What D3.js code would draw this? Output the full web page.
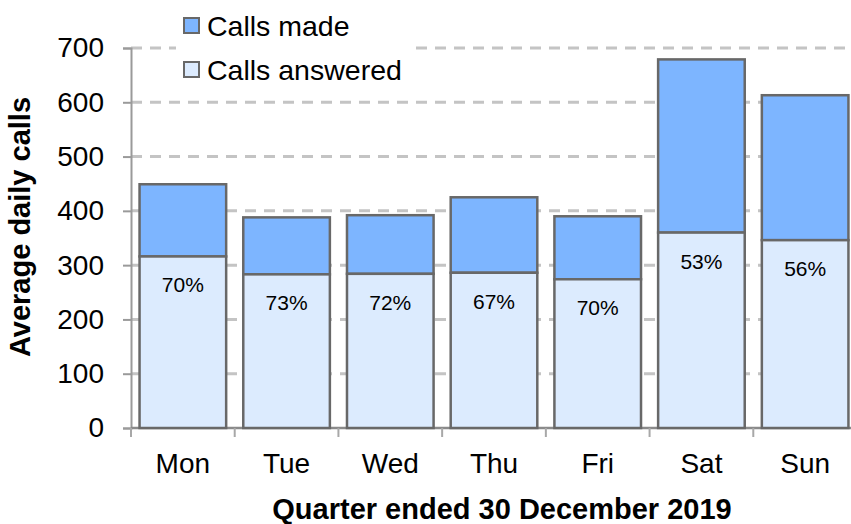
<!DOCTYPE html>
<html>
<head>
<meta charset="utf-8">
<script src="https://cdn.jsdelivr.net/npm/d3@7"></script>
<style>
  html, body { margin: 0; padding: 0; background: #fff; }
  svg { display: block; font-family: "Liberation Sans", Arial, sans-serif; }
</style>
</head>
<body>
<svg id="chart" width="851" height="524"></svg>
<script>
const days = ["Mon", "Tue", "Wed", "Thu", "Fri", "Sat", "Sun"];
const callsMade = [449, 388, 392, 425, 390, 679, 613];
const callsAnswered = [316, 283, 284, 286, 274, 360, 346];
const pctLabels = ["70%", "73%", "72%", "67%", "70%", "53%", "56%"];
const yTicks = [0, 100, 200, 300, 400, 500, 600, 700];
const seriesNames = ["Calls made", "Calls answered"];
const xTitle = "Quarter ended 30 December 2019";
const yTitle = "Average daily calls";

const colMade = "#7db5ff";
const colAnswered = "#dcebfe";
const colStroke = "#686868";

const svg = d3.select("#chart");
const pL = 131, pR = 857, pT = 48, pB = 428;

const x = d3.scaleBand().domain(days).range([pL, pR])
  .paddingInner(0.165).paddingOuter(0.0825);
const y = d3.scaleLinear().domain([0, 700]).range([pB, pT]);

// gridlines
svg.append("g").selectAll("line").data(yTicks.filter(d => d > 0)).join("line")
  .attr("x1", pL).attr("x2", 851)
  .attr("y1", d => y(d)).attr("y2", d => y(d))
  .attr("stroke", "#c4c4c4").attr("stroke-width", 3)
  .attr("stroke-dasharray", "11,8");

// y axis
const yAxis = svg.append("g").attr("transform", `translate(${pL},0)`)
  .call(d3.axisLeft(y).tickValues(yTicks).tickSize(8).tickPadding(19));
yAxis.select(".domain").attr("stroke", "#9a9a9a").attr("stroke-width", 2);
yAxis.selectAll(".tick line").attr("stroke", "#9a9a9a").attr("stroke-width", 2);
yAxis.selectAll(".tick text").attr("font-size", 28).attr("fill", "#000")
  .attr("font-family", "Liberation Sans, Arial, sans-serif");

// x axis
const step = x.step();
const xTickPos = d3.range(days.length + 1).map(i => pL + i * step);
const xAxisG = svg.append("g");
xAxisG.append("line").attr("x1", pL).attr("x2", pR)
  .attr("y1", pB).attr("y2", pB)
  .attr("stroke", "#8a8a8a").attr("stroke-width", 2.5);
xAxisG.selectAll("line.t").data(xTickPos).join("line").attr("class", "t")
  .attr("x1", d => d).attr("x2", d => d)
  .attr("y1", pB).attr("y2", pB + 9)
  .attr("stroke", "#a8a8a8").attr("stroke-width", 2);
xAxisG.selectAll("text").data(days).join("text")
  .attr("x", d => x(d) + x.bandwidth() / 2)
  .attr("y", pB + 45)
  .attr("text-anchor", "middle").attr("font-size", 28).attr("fill", "#000")
  .text(d => d);

// bars
const bars = svg.append("g");
bars.selectAll("rect.made").data(days).join("rect").attr("class", "made")
  .attr("x", d => x(d)).attr("width", x.bandwidth())
  .attr("y", (d, i) => y(callsMade[i]))
  .attr("height", (d, i) => y(callsAnswered[i]) - y(callsMade[i]))
  .attr("fill", colMade).attr("stroke", colStroke).attr("stroke-width", 2.5);
bars.selectAll("rect.ans").data(days).join("rect").attr("class", "ans")
  .attr("x", d => x(d)).attr("width", x.bandwidth())
  .attr("y", (d, i) => y(callsAnswered[i]))
  .attr("height", (d, i) => y(0) - y(callsAnswered[i]))
  .attr("fill", colAnswered).attr("stroke", colStroke).attr("stroke-width", 2.5);

// percentage labels
bars.selectAll("text").data(days).join("text")
  .attr("x", d => x(d) + x.bandwidth() / 2)
  .attr("y", (d, i) => y(callsAnswered[i]) + 36)
  .attr("text-anchor", "middle").attr("font-size", 21).attr("fill", "#000")
  .text((d, i) => pctLabels[i]);

// legend
const lg = svg.append("g");
lg.append("rect").attr("x", 176).attr("y", 4).attr("width", 238).attr("height", 92).attr("fill", "#fff");
const legCols = [colMade, colAnswered];
seriesNames.forEach((name, i) => {
  const cy = 26 + i * 44;
  lg.append("rect").attr("x", 184).attr("y", cy - 8).attr("width", 15).attr("height", 15)
    .attr("fill", legCols[i]).attr("stroke", colStroke).attr("stroke-width", 2);
  lg.append("text").attr("x", 207).attr("y", cy + 10).attr("font-size", 28.5).attr("fill", "#000").text(name);
});

// axis titles
svg.append("text").attr("x", 502).attr("y", 519).attr("text-anchor", "middle")
  .attr("font-size", 29).attr("font-weight", "bold").attr("fill", "#000").text(xTitle);
svg.append("text").attr("transform", "translate(30,227) rotate(-90)")
  .attr("text-anchor", "middle").attr("font-size", 29).attr("font-weight", "bold")
  .attr("fill", "#000").text(yTitle);
</script>
</body>
</html>
